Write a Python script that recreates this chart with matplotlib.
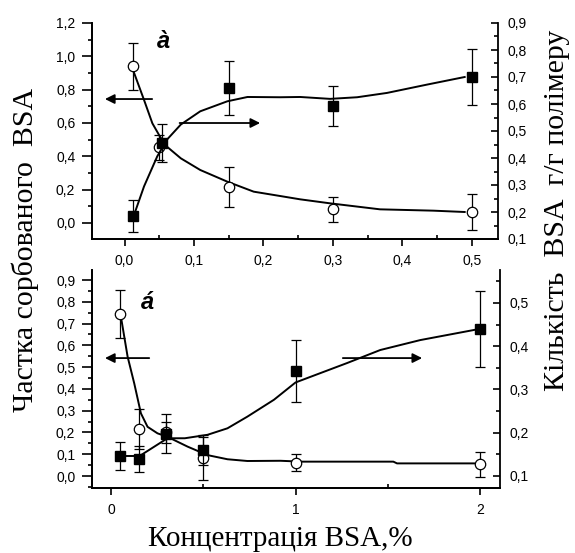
import matplotlib
matplotlib.use("Agg")
import matplotlib.pyplot as plt
from matplotlib.ticker import MultipleLocator, FuncFormatter

# top panel (a): low concentrations
top_x_circ = [0.0125, 0.05, 0.15, 0.3, 0.5]
top_y_circ = [0.94, 0.456, 0.216, 0.084, 0.066]
top_err_circ = [0.14, 0.075, 0.12, 0.075, 0.11]
top_x_sq = [0.0125, 0.054, 0.15, 0.3, 0.5]
top_y_sq = [0.185, 0.456, 0.659, 0.593, 0.70]
top_err_sq = [0.06, 0.07, 0.1, 0.075, 0.105]

top_fit_circ_x = [0.013, 0.028, 0.040, 0.051, 0.061, 0.081, 0.109, 0.148, 0.186,
                  0.224, 0.253, 0.296, 0.368, 0.445, 0.49]
top_fit_circ_y = [0.908, 0.738, 0.598, 0.518, 0.458, 0.388, 0.318, 0.248, 0.188,
                  0.162, 0.142, 0.118, 0.082, 0.074, 0.066]
top_fit_sq_x = [0.013, 0.028, 0.047, 0.061, 0.081, 0.109, 0.148, 0.177, 0.224,
                0.253, 0.296, 0.335, 0.378, 0.436, 0.49]
top_fit_sq_y = [0.185, 0.295, 0.406, 0.468, 0.524, 0.573, 0.610, 0.626, 0.625,
                0.626, 0.619, 0.625, 0.641, 0.672, 0.70]

# bottom panel (b): full range
bot_x = [0.05, 0.15, 0.3, 0.5, 1.0, 2.0]
bot_y_circ = [0.746, 0.216, 0.2, 0.081, 0.061, 0.054]
bot_err_circ = [0.11, 0.09, 0.05, 0.1, 0.04, 0.058]
bot_y_sq = [0.146, 0.139, 0.198, 0.16, 0.343, 0.44]
bot_err_sq = [0.032, 0.03, 0.045, 0.035, 0.072, 0.088]

bot_fit_circ_x = [0.054, 0.09, 0.126, 0.162, 0.198, 0.252, 0.306, 0.415, 0.523,
                  0.631, 0.739, 0.919, 1.03, 1.53, 1.55, 2.0]
bot_fit_circ_y = [0.73, 0.548, 0.425, 0.288, 0.226, 0.196, 0.18, 0.135, 0.096,
                  0.077, 0.069, 0.070, 0.066, 0.066, 0.058, 0.058]
bot_fit_sq_x = [0.054, 0.155, 0.306, 0.4, 0.523, 0.631, 0.739, 0.883, 1.0,
                1.28, 1.459, 1.676, 2.0]
bot_fit_sq_y = [0.146, 0.146, 0.187, 0.187, 0.195, 0.21, 0.237, 0.276, 0.316,
                0.361, 0.391, 0.414, 0.44]

plt.rcParams["font.family"] = ["Liberation Sans", "DejaVu Sans"]
serif = ["Liberation Serif", "DejaVu Serif"]

comma1 = FuncFormatter(lambda v, p: f"{v:.1f}".replace(".", ","))
comma0 = FuncFormatter(lambda v, p: f"{v:.0f}")

fig = plt.figure(figsize=(5.75, 5.53), dpi=100)
W, H = 575, 553


def box(x0, y0, x1, y1):
    return [x0 / W, 1 - y1 / H, (x1 - x0) / W, (y1 - y0) / H]


def style(ax, axr):
    for a in (ax, axr):
        a.spines["top"].set_visible(False)
        for s in a.spines.values():
            s.set_linewidth(1.3)
    ax.spines["right"].set_visible(False)
    ax.tick_params(axis="y", which="major", direction="out", length=7, width=1.2, labelsize=10, pad=5)
    ax.tick_params(axis="y", which="minor", direction="out", length=3, width=1.2)
    ax.tick_params(axis="x", which="major", direction="out", length=5, width=1.2, labelsize=10, pad=6)
    ax.tick_params(axis="x", which="minor", direction="in", length=3, width=1.2)
    axr.tick_params(axis="y", which="major", direction="in", length=5, width=1.2, labelsize=10, pad=7)
    axr.tick_params(axis="y", which="minor", direction="in", length=3, width=1.2)


def draw(ax, axr, xc, yc, ec, xs, ys, es, fcx, fcy, fsx, fsy):
    ax.plot(fcx, fcy, color="k", lw=1.4, zorder=2)
    ax.errorbar(xc, yc, yerr=ec, fmt="o", ms=7.5, mfc="white", mec="k", mew=0.9,
                ecolor="k", elinewidth=0.9, capsize=3.5, capthick=0.9, zorder=4)
    axr.plot(fsx, fsy, color="k", lw=1.4, zorder=2)
    axr.errorbar(xs, ys, yerr=es, fmt="s", ms=7, mfc="k", mec="k",
                 ecolor="k", elinewidth=0.9, capsize=3.5, capthick=0.9, zorder=4)


def arrow(ax, x0, x1, y):
    ax.annotate("", xy=(x1, y), xytext=(x0, y), xycoords="axes fraction",
                arrowprops=dict(arrowstyle="-|>", color="k", lw=1.3, mutation_scale=14))


# top panel
ax1 = fig.add_axes(box(92, 23, 498, 239))
ax1r = ax1.twinx()
style(ax1, ax1r)
draw(ax1, ax1r, top_x_circ, top_y_circ, top_err_circ, top_x_sq, top_y_sq, top_err_sq,
     top_fit_circ_x, top_fit_circ_y, top_fit_sq_x, top_fit_sq_y)
ax1.set_xlim(-0.047, 0.538)
ax1.set_ylim(-0.096, 1.2)
ax1r.set_ylim(0.1, 0.9)
ax1.xaxis.set_major_locator(MultipleLocator(0.1))
ax1.xaxis.set_minor_locator(MultipleLocator(0.05))
ax1.yaxis.set_major_locator(MultipleLocator(0.2))
ax1.yaxis.set_minor_locator(MultipleLocator(0.1))
ax1r.yaxis.set_major_locator(MultipleLocator(0.1))
ax1r.yaxis.set_minor_locator(MultipleLocator(0.05))
ax1.xaxis.set_major_formatter(comma1)
ax1.yaxis.set_major_formatter(comma1)
ax1r.yaxis.set_major_formatter(comma1)
ax1.text(0.175, 0.915, "à", transform=ax1.transAxes, fontsize=17,
         fontweight="bold", fontstyle="italic", ha="center", va="center")
arrow(ax1, 0.155, 0.025, 0.648)
arrow(ax1, 0.209, 0.421, 0.537)

# bottom panel
ax2 = fig.add_axes(box(92, 270, 500, 488))
ax2r = ax2.twinx()
style(ax2, ax2r)
draw(ax2, ax2r, bot_x, bot_y_circ, bot_err_circ, bot_x, bot_y_sq, bot_err_sq,
     bot_fit_circ_x, bot_fit_circ_y, bot_fit_sq_x, bot_fit_sq_y)
ax2.set_xlim(-0.103, 2.108)
ax2.set_ylim(-0.055, 0.946)
ax2r.set_ylim(0.072, 0.576)
ax2.xaxis.set_major_locator(MultipleLocator(1))
ax2.xaxis.set_minor_locator(MultipleLocator(0.5))
ax2.yaxis.set_major_locator(MultipleLocator(0.1))
ax2.yaxis.set_minor_locator(MultipleLocator(0.05))
ax2r.yaxis.set_major_locator(MultipleLocator(0.1))
ax2r.yaxis.set_minor_locator(MultipleLocator(0.05))
ax2.xaxis.set_major_formatter(comma0)
ax2.yaxis.set_major_formatter(comma1)
ax2r.yaxis.set_major_formatter(comma1)
ax2.text(0.135, 0.85, "á", transform=ax2.transAxes, fontsize=17,
         fontweight="bold", fontstyle="italic", ha="center", va="center")
arrow(ax2, 0.147, 0.025, 0.596)
arrow(ax2, 0.608, 0.816, 0.596)

fig.text(25 / W, 1 - 250 / H, "Частка сорбованого  BSA", rotation=90, fontsize=21.5,
         family=serif, ha="center", va="center")
fig.text(557 / W, 1 - 210 / H, "Кількість  BSA  г/г полімеру", rotation=90, fontsize=21.5,
         family=serif, ha="center", va="center")
fig.text(280 / W, 1 - 539 / H, "Концентрація BSA,%", fontsize=21,
         family=serif, ha="center", va="center")

fig.savefig("out.png", dpi=100)
